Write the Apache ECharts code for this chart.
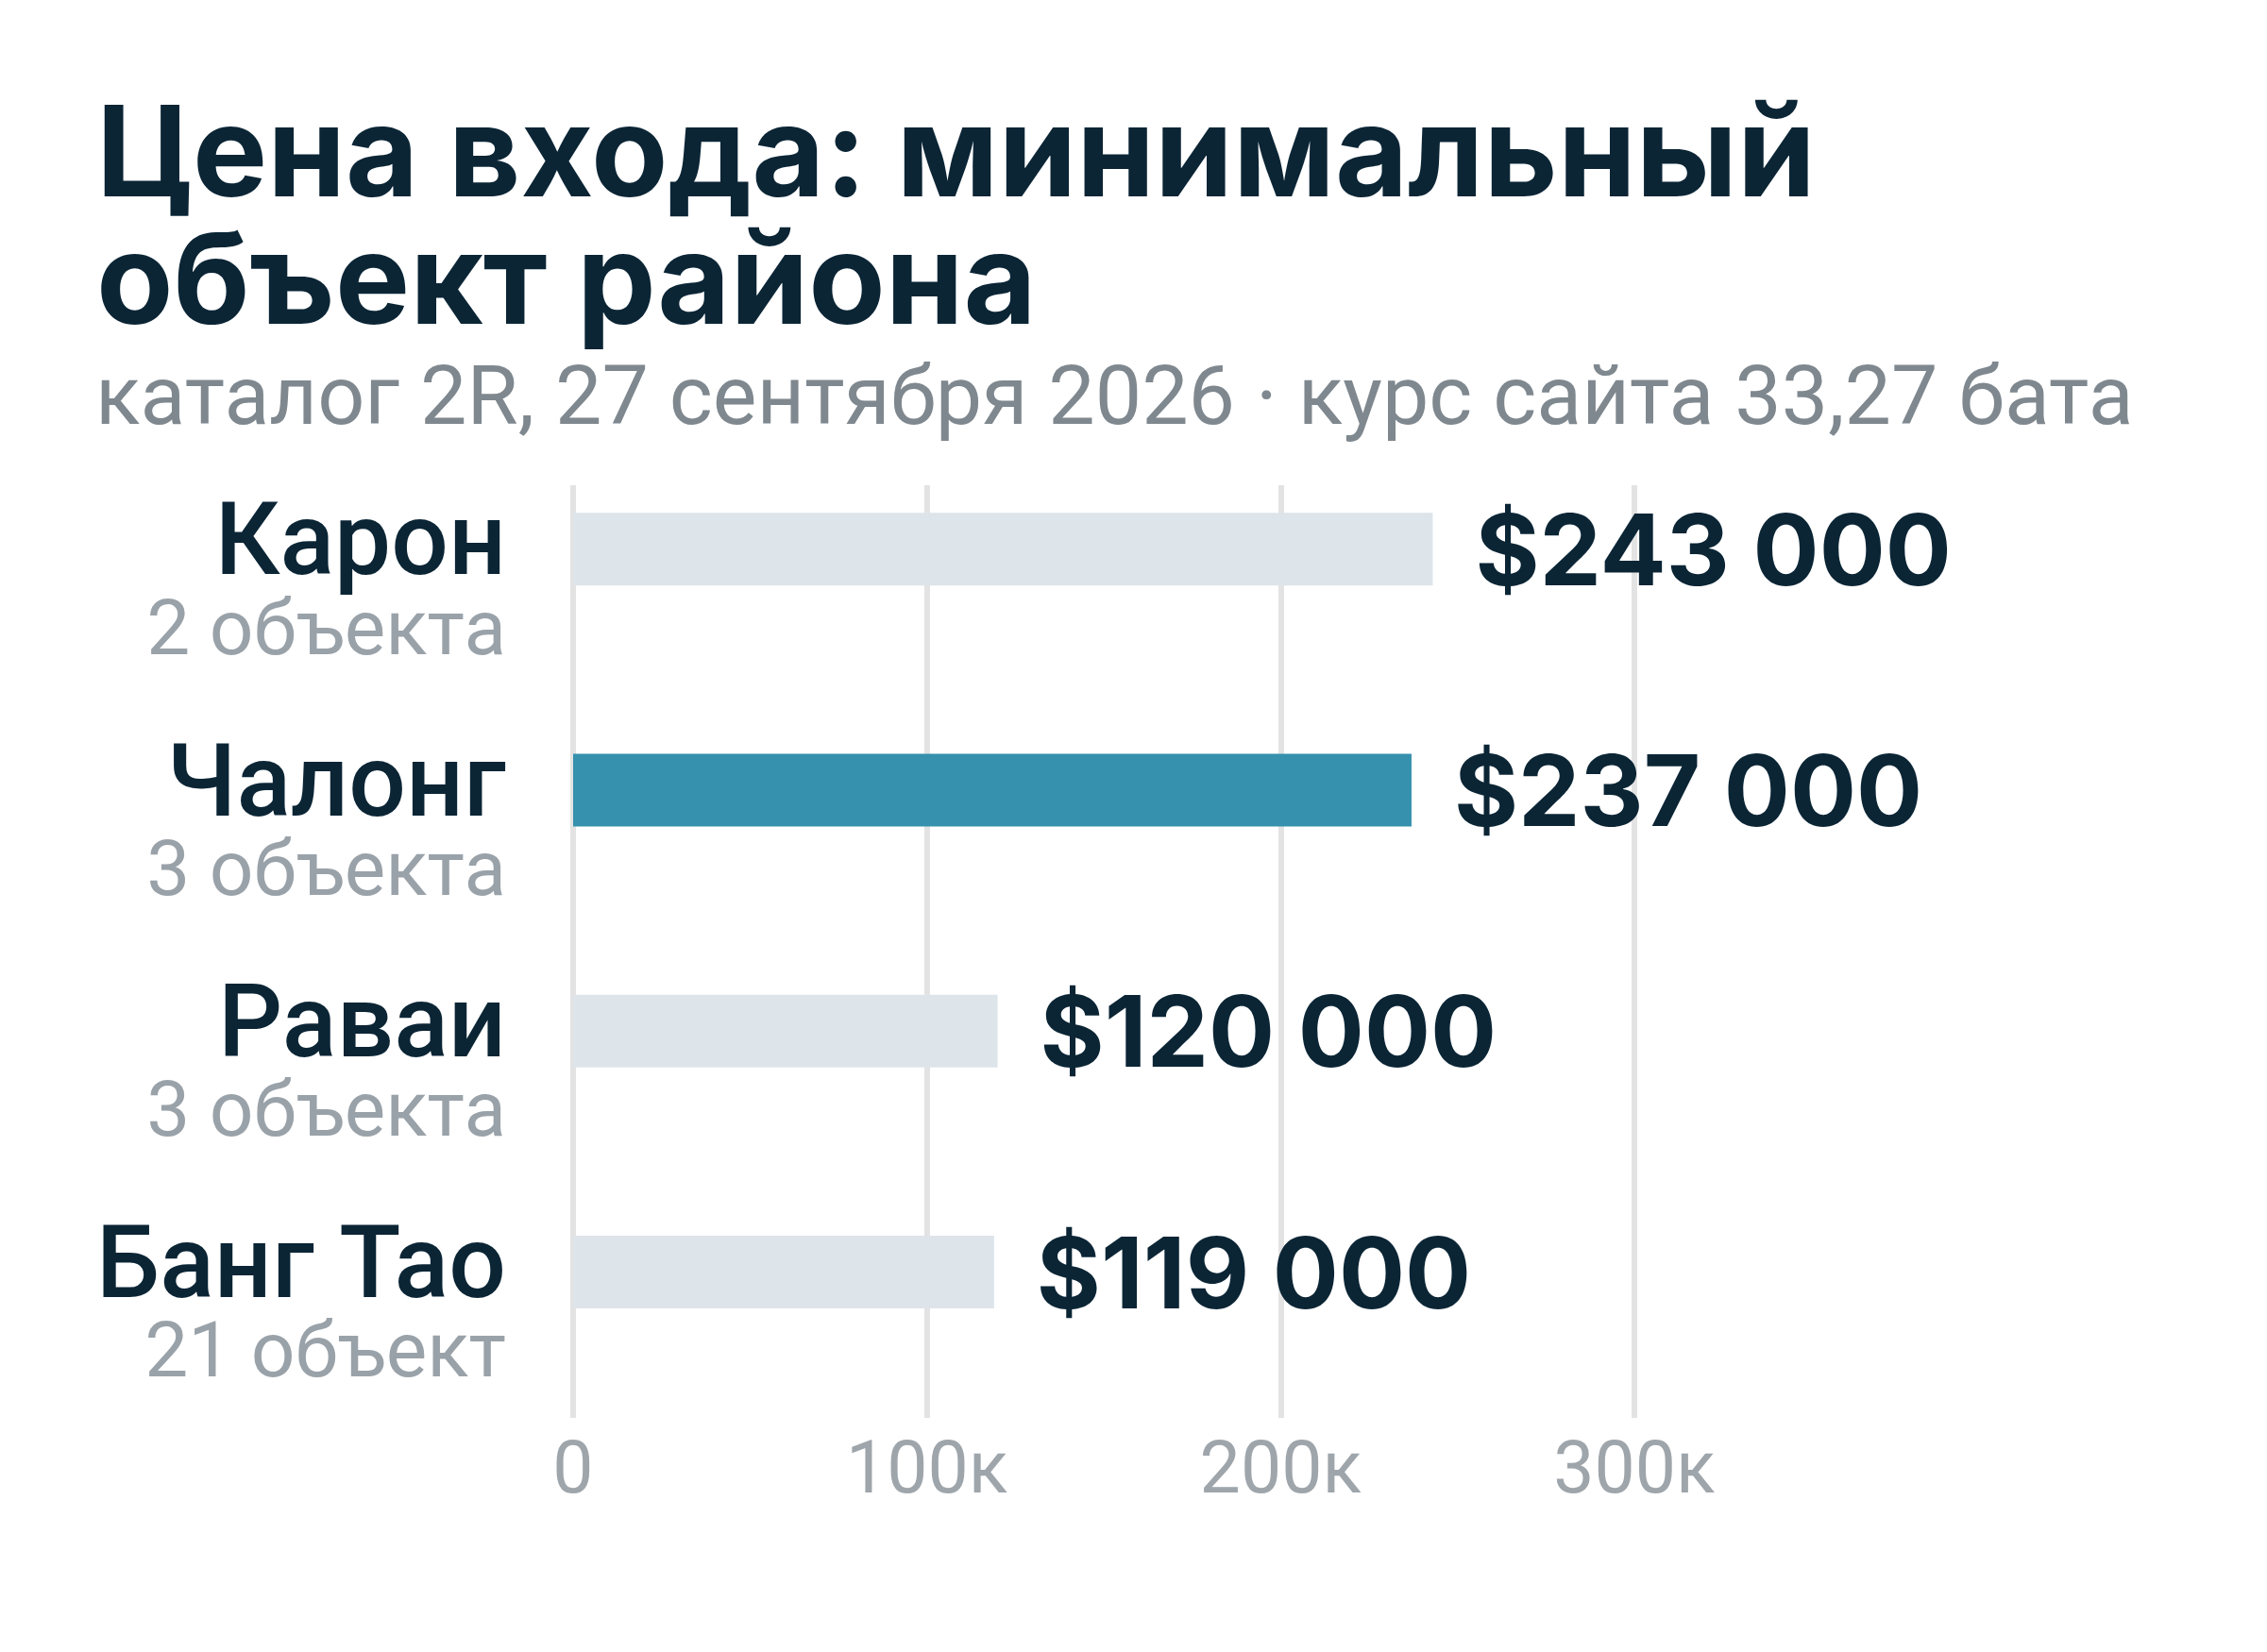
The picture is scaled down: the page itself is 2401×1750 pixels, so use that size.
<!DOCTYPE html>
<html>
<head>
<meta charset="utf-8">
<script src="https://cdn.jsdelivr.net/npm/echarts@6/dist/echarts.min.js"></script>
<style>
  html, body { margin: 0; padding: 0; background: #fff; }
  #chart { width: 2401px; height: 1750px; }
</style>
</head>
<body>
<div id="chart"></div>
<script>
// data
const districts = ['Карон', 'Чалонг', 'Раваи', 'Банг Тао'];
const minPrices = [243000, 237000, 120000, 119000];
const listingCounts = [2, 3, 3, 21];
const tickValues = [0, 100000, 200000, 300000];
const highlighted = 'Чалонг';

const DARK = '#0b2535';

// russian plural for "объект"
function objWord(n) {
  const m10 = n % 10, m100 = n % 100;
  if (m10 === 1 && m100 !== 11) return 'объект';
  if (m10 >= 2 && m10 <= 4 && (m100 < 12 || m100 > 14)) return 'объекта';
  return 'объектов';
}

function money(v) {
  return '$' + String(v).replace(/\B(?=(\d{3})+(?!\d))/g, ' ');
}

const chart = echarts.init(document.getElementById('chart'));

const option = {
  backgroundColor: '#ffffff',
  animation: false,
  title: [
    {
      text: 'Цена входа: минимальный\nобъект района',
      left: 97,
      top: 96,
      textStyle: {
        fontFamily: 'Inter',
        fontWeight: 700,
        fontSize: 133,
        lineHeight: 135,
        color: DARK
      }
    },
    {
      text: 'каталог 2R, 27 сентября 2026 · курс сайта 33,27 бата',
      left: 96,
      top: 377,
      textStyle: {
        fontFamily: 'Roboto',
        fontWeight: 400,
        fontSize: 88,
        lineHeight: 90,
        color: '#7f888f'
      }
    }
  ],
  grid: [
    // bars
    { left: 607, width: 1124, top: 454, height: 1021 },
    // gridlines + value ticks
    { left: 607, width: 1124, top: 514, height: 988 }
  ],
  xAxis: [
    {
      gridIndex: 0,
      type: 'value',
      min: 0,
      max: 300000,
      show: false
    },
    {
      gridIndex: 1,
      type: 'value',
      min: 0,
      max: 300000,
      interval: 100000,
      axisLine: { show: false },
      axisTick: { show: false },
      splitLine: { show: true, lineStyle: { color: '#e3e3e3', width: 6 } },
      axisLabel: {
        margin: 21,
        fontFamily: 'Roboto',
        fontSize: 77,
        lineHeight: 77,
        color: '#9ea5ab',
        customValues: tickValues,
        formatter: v => (v === 0 ? '0' : (v / 1000) + 'к')
      }
    }
  ],
  yAxis: [
    {
      gridIndex: 0,
      type: 'category',
      inverse: true,
      data: districts,
      axisLine: { show: false },
      axisTick: { show: false },
      splitLine: { show: false },
      axisLabel: {
        margin: 71,
        align: 'right',
        padding: [20, 0, 0, 0],
        formatter: (name, i) => '{n|' + name + '}\n{s|' + listingCounts[i] + ' ' + objWord(listingCounts[i]) + '}',
        rich: {
          n: {
            fontFamily: 'Roboto',
            fontWeight: 500,
            fontSize: 107,
            lineHeight: 161,
            color: DARK,
            align: 'right'
          },
          s: {
            fontFamily: 'Roboto',
            fontWeight: 400,
            fontSize: 82,
            lineHeight: 20,
            color: '#9aa2a9',
            align: 'right'
          }
        }
      }
    },
    {
      gridIndex: 1,
      type: 'value',
      show: false
    }
  ],
  series: [
    {
      type: 'bar',
      xAxisIndex: 0,
      yAxisIndex: 0,
      barWidth: 77,
      data: minPrices.map((v, i) => ({
        value: v,
        itemStyle: { color: districts[i] === highlighted ? '#3591ad' : '#dde4ea' }
      })),
      label: {
        show: true,
        position: 'right',
        distance: 45,
        offset: [0, 7],
        fontFamily: 'Inter',
        fontWeight: 700,
        fontSize: 104,
        color: DARK,
        formatter: p => money(p.value)
      },
      z: 3
    }
  ]
};

chart.setOption(option);
</script>
</body>
</html>
